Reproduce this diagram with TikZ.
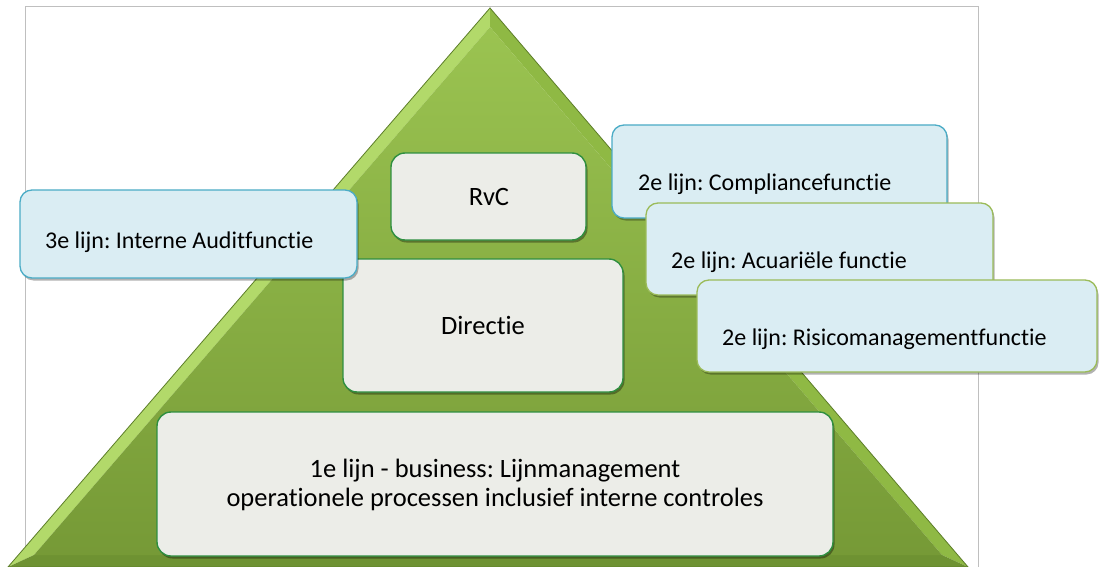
\documentclass[tikz,border=0pt]{standalone}
\usepackage{fontspec}
\setmainfont{Carlito}[Ligatures={NoCommon}]
\usetikzlibrary{shadows}
\definecolor{trimain}{HTML}{8BB540}
\definecolor{trilight}{HTML}{B2D96A}
\definecolor{tridark}{HTML}{6E9232}
\definecolor{triedge}{HTML}{5C7D28}
\definecolor{boxfill}{HTML}{ECEDE8}
\definecolor{boxedge}{HTML}{2F8F40}
\definecolor{sidefill}{HTML}{DAEDF3}
\definecolor{sideblue}{HTML}{4BACC6}
\definecolor{sidegreen}{HTML}{9BBB59}
\definecolor{framegray}{HTML}{BFBFBF}
\tikzset{
  innerbox/.style={draw=boxedge, line width=1.4pt, fill=boxfill, rounded corners=14pt,
    drop shadow={shadow xshift=1.5pt, shadow yshift=-2.5pt, opacity=0.35, fill=black}},
  sidebox/.style={fill=sidefill, line width=1.3pt, rounded corners=12pt,
    drop shadow={shadow xshift=1.5pt, shadow yshift=-2.5pt, opacity=0.3, fill=black}},
  lbl/.style={font=\fontsize{24}{28}\selectfont, inner sep=0pt, text=black},
  biglbl/.style={font=\fontsize{26.5}{29}\selectfont, inner sep=0pt, text=black}
}
\frenchspacing
\begin{document}
\frenchspacing
\begin{tikzpicture}[x=1pt,y=-1pt]
\useasboundingbox (0,0) rectangle (1100,567);
\fill[white] (0,0) rectangle (1100,567);
% frame
\draw[framegray, line width=1pt] (25,575) -- (25,7) -- (978,7) -- (978,575);
% triangle
\coordinate (A) at (490,8);
\coordinate (B) at (8,567);
\coordinate (C) at (968,567);
\coordinate (iA) at (490,27);
\coordinate (iB) at (34,555);
\coordinate (iC) at (942,555);
\fill[trilight] (A) -- (B) -- (iB) -- (iA) -- cycle;
\fill[trimain!90!trilight] (A) -- (C) -- (iC) -- (iA) -- cycle;
\fill[tridark] (B) -- (C) -- (iC) -- (iB) -- cycle;
\shade[top color=trimain!60!trilight, bottom color=trimain!85!black] (iA) -- (iB) -- (iC) -- cycle;
\draw[triedge, line width=0.8pt] (A) -- (B) -- (C) -- cycle;
% inner boxes
\draw[innerbox] (391,153) rectangle (586,240);
\node[biglbl] (rvc) at (489,197) {RvC};
\draw[innerbox] (343,259) rectangle (623,392);
\node[biglbl] (dir) at (483,325) {Directie};
\draw[innerbox] (157,412) rectangle (833,556);
\node[biglbl, align=center] (line1) at (495,485) {1e lijn - business: Lijnmanagement\\operationele processen inclusief interne controles};
% side boxes
\draw[sidebox, draw=sideblue] (20,190) rectangle (357,278);
\node[lbl, anchor=base west] (audit) at (45,248) {3e lijn: Interne Auditfunctie};
\draw[sidebox, draw=sideblue] (612,125) rectangle (947,218);
\node[lbl, anchor=base west] (comp) at (638,190) {2e lijn: Compliancefunctie};
\draw[sidebox, draw=sidegreen] (646,203) rectangle (993,295);
\node[lbl, anchor=base west] (acu) at (671,268) {2e lijn: Acuariële functie};
\draw[sidebox, draw=sidegreen] (697,280) rectangle (1097,372);
\node[lbl, anchor=base west] (risk) at (722,345) {2e lijn: Risicomanagementfunctie};
\end{tikzpicture}
\end{document}
